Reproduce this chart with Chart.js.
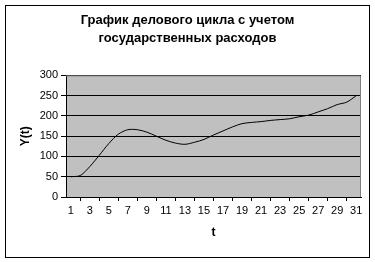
<!DOCTYPE html>
<html>
<head>
<meta charset="utf-8">
<script src="https://cdn.jsdelivr.net/npm/chart.js@4"></script>
<style>
  html, body { margin: 0; padding: 0; background: #fff; }
  #wrap { width: 375px; height: 262px; }
</style>
</head>
<body>
<div id="wrap"><canvas id="cycleChart"></canvas></div>
<script>
const periods = ['1','2','3','4','5','6','7','8','9','10','11','12','13','14','15','16',
                 '17','18','19','20','21','22','23','24','25','26','27','28','29','30','31'];
const yValues = [50, 53, 75, 103, 132, 155, 166, 166, 160, 150, 140, 133, 130, 135, 142, 153,
                 163, 173, 181, 184, 186, 189, 191, 193, 198, 202, 210, 218, 228, 234, 250];
const yTicks = [0, 50, 100, 150, 200, 250, 300];

const FONT = 'Liberation Sans, Arial, sans-serif';

// grey plot area + outer frame, like the old spreadsheet charts
const framePlugin = {
    id: 'frame',
    beforeDraw(chart) {
        const { ctx, chartArea: a } = chart;
        ctx.save();
        ctx.fillStyle = '#fff';
        ctx.fillRect(0, 0, chart.width, chart.height);
        ctx.fillStyle = '#c0c0c0';
        ctx.fillRect(a.left, a.top, a.right - a.left, a.bottom - a.top);
        ctx.restore();
    },
    afterDraw(chart) {
        const { ctx, chartArea: a } = chart;
        ctx.save();
        ctx.lineWidth = 1;
        ctx.strokeStyle = '#808080';
        ctx.beginPath();
        ctx.moveTo(a.left, a.top + 0.5);
        ctx.lineTo(a.right - 0.5, a.top + 0.5);
        ctx.lineTo(a.right - 0.5, a.bottom);
        ctx.stroke();
        ctx.strokeStyle = '#000';
        ctx.strokeRect(5.5, 5.5, 364, 252);
        ctx.restore();
    }
};

const ctx = document.getElementById('cycleChart').getContext('2d');
new Chart(ctx, {
    type: 'line',
    data: {
        labels: periods,
        datasets: [{
            label: 'Y(t)',
            data: yValues,
            borderColor: '#000',
            borderWidth: 1,
            pointRadius: 0,
            tension: 0.3,
            fill: false
        }]
    },
    options: {
        responsive: true,
        maintainAspectRatio: false,
        animation: false,
        layout: { padding: 0 },
        plugins: {
            legend: { display: false },
            tooltip: { enabled: false },
            title: {
                display: true,
                text: ['График делового цикла с учетом', 'государственных расходов'],
                color: '#000',
                font: { family: FONT, size: 13, weight: 'bold', lineHeight: 1.4 },
                padding: { top: 11, bottom: 28 }
            }
        },
        scales: {
            x: {
                offset: true,
                grid: { offset: true, drawOnChartArea: false, color: '#000', tickLength: 4 },
                border: { color: '#000' },
                ticks: {
                    autoSkip: false,
                    maxRotation: 0,
                    color: '#000',
                    padding: 3,
                    font: { family: FONT, size: 11 },
                    callback: (v, i) => (i % 2 === 0 ? periods[i] : null)
                },
                title: {
                    display: true,
                    text: 't',
                    color: '#000',
                    font: { family: FONT, size: 12, weight: 'bold' },
                    padding: { top: 0, bottom: 22 }
                },
                afterFit: s => { s.height = 65; }
            },
            y: {
                min: 0,
                max: 300,
                afterBuildTicks: s => { s.ticks = yTicks.map(v => ({ value: v })); },
                grid: { color: '#000', tickLength: 5 },
                border: { color: '#000' },
                ticks: {
                    color: '#000',
                    padding: 3,
                    font: { family: FONT, size: 11 }
                },
                title: {
                    display: true,
                    text: 'Y(t)',
                    color: '#000',
                    font: { family: FONT, size: 12, weight: 'bold' },
                    padding: { top: 18, bottom: 0 }
                },
                afterFit: s => { s.width = 66; }
            },
            spacer: {
                position: 'right',
                display: true,
                grid: { display: false },
                border: { display: false },
                ticks: { display: false },
                afterFit: s => { s.width = 14; }
            }
        }
    },
    plugins: [framePlugin]
});
</script>
</body>
</html>
